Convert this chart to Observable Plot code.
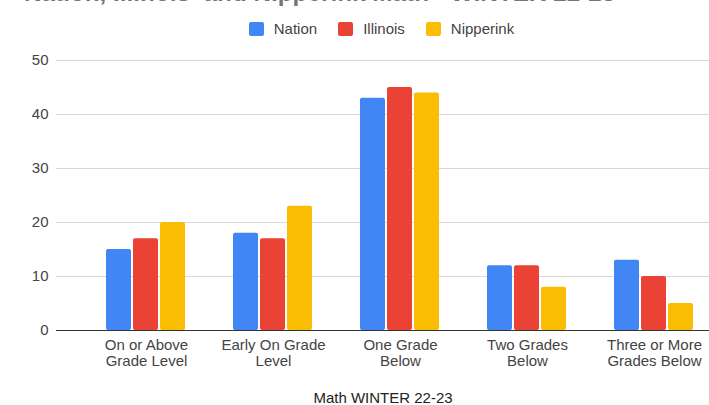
<!DOCTYPE html>
<html>
<head>
<meta charset="utf-8">
<script src="https://cdn.jsdelivr.net/npm/d3@7"></script>
<script src="https://cdn.jsdelivr.net/npm/@observablehq/plot@0.6"></script>
<style>
  html, body { margin: 0; padding: 0; background: #fff; overflow: hidden; }
  body { width: 709px; height: 405px; position: relative; font-family: "Liberation Sans", Arial, sans-serif; }
  #title { position: absolute; left: 24px; top: -21px; font-size: 24.3px; font-weight: bold; color: #757575; white-space: pre; }
  #legend { position: absolute; top: 21px; left: 0; width: 709px; height: 15px; display: flex; justify-content: center; padding-left: 54px; box-sizing: border-box; font-size: 15px; color: #444; line-height: 15px; }
  .item { display: flex; align-items: center; margin: 0 10.5px; }
  .sw { width: 15px; height: 14px; border-radius: 2px; margin-right: 10px; }
  .layer { position: absolute; top: 45px; left: 0; }
  .layer svg { background: transparent !important; }
</style>
</head>
<body>
<div id="title">Nation, Illinois  and Nipperink Math - WINTER 22-23</div>
<div id="legend"></div>
<div id="back" class="layer"></div>
<div id="bars" class="layer"></div>
<div id="front" class="layer"></div>
<script>
const categories = ["On or Above\nGrade Level", "Early On Grade\nLevel", "One Grade\nBelow", "Two Grades\nBelow", "Three or More\nGrades Below"];
const series = ["Nation", "Illinois", "Nipperink"];
const colors = ["#4285F4", "#EA4335", "#FBBC04"];
const nation = [15, 18, 43, 12, 13];
const illinois = [17, 17, 45, 12, 10];
const nipperink = [20, 23, 44, 8, 5];
const yTicks = [0, 10, 20, 30, 40, 50];
const xLabel = "Math WINTER 22-23";

const valuesBySeries = [nation, illinois, nipperink];
const data = [];
categories.forEach((c, i) => series.forEach((s, j) => data.push({category: c, series: s, value: valuesBySeries[j][i]})));

const legend = document.getElementById("legend");
series.forEach((s, j) => {
  const it = document.createElement("div");
  it.className = "item";
  it.innerHTML = `<div class="sw" style="background:${colors[j]}"></div><span>${s}</span>`;
  legend.appendChild(it);
});

const base = {
  width: 709,
  height: 360,
  marginLeft: 56,
  marginRight: 0,
  marginTop: 15,
  marginBottom: 75,
  style: {fontFamily: "'Liberation Sans', Arial, sans-serif", fontSize: "15px", color: "#444", background: "transparent", overflow: "visible"},
  y: {domain: [0, 50], axis: null}
};

// background: gridlines, y tick labels, x title
document.getElementById("back").appendChild(Plot.plot({
  ...base,
  marks: [
    Plot.ruleY(yTicks.filter(d => d > 0), {y: d => d, stroke: "#d9d9d9", strokeWidth: 1}),
    Plot.text(yTicks, {y: d => d, text: d => String(d), frameAnchor: "left", textAnchor: "end", dx: -8, fill: "#444", fontSize: 15}),
    Plot.text([xLabel], {frameAnchor: "bottom", dy: 72, fill: "#222", fontSize: 15})
  ]
}));

// grouped bars
document.getElementById("bars").appendChild(Plot.plot({
  ...base,
  fx: {domain: categories, paddingInner: 0.358, paddingOuter: 0.23, align: 0.765, label: null, axis: null},
  x: {domain: series, paddingInner: 0.07, paddingOuter: 0, axis: null},
  color: {domain: series, range: colors},
  marks: [
    Plot.barY(data, {fx: "category", x: "series", y: "value", fill: "series", rx: 2}),
    Plot.axisFx({anchor: "bottom", tickSize: 0, tickPadding: 8, label: null, fontSize: 15, lineHeight: 1.07, fill: "#444"})
  ]
}));

// foreground: baseline
document.getElementById("front").appendChild(Plot.plot({
  ...base,
  marks: [Plot.ruleY([0], {stroke: "#333", strokeWidth: 1})]
}));
</script>
</body>
</html>
